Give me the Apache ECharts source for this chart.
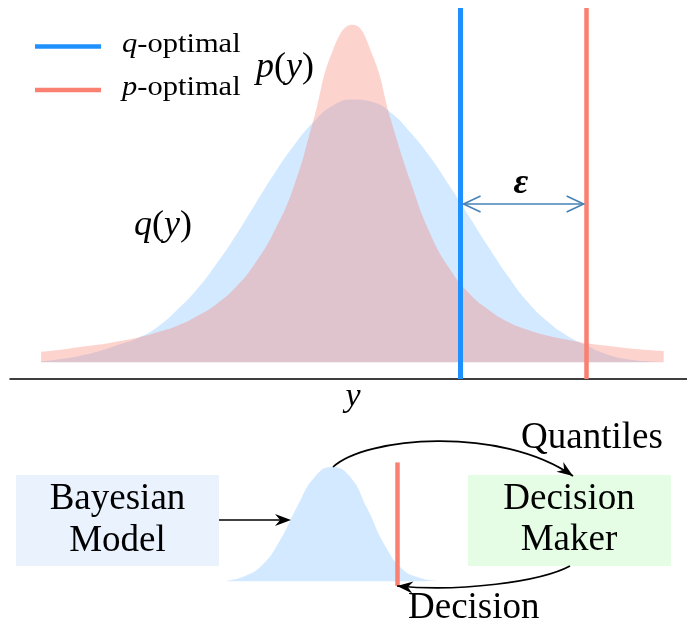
<!DOCTYPE html>
<html lang="en">
<head>
<meta charset="UTF-8" />
<title>q-optimal vs p-optimal</title>
<script src="https://cdn.jsdelivr.net/npm/echarts@6/dist/echarts.min.js"></script>
<style>html, body { margin: 0; padding: 0; background: #fff; }</style>
</head>
<body>
<div id="main" style="width: 687px; height: 622px"></div>
<script>
// top panel: the two densities over y (peak of p scaled to 1)
const topX = [-4, -3.75, -3.5, -3.25, -3, -2.75, -2.5, -2.25, -2, -1.75, -1.5, -1.25, -1, -0.75, -0.5, -0.25, 0,
  0.25, 0.5, 0.75, 1, 1.25, 1.5, 1.75, 2, 2.25, 2.5, 2.75, 3, 3.25, 3.5, 3.75, 4];
const pDensity = [0.031, 0.037, 0.045, 0.052, 0.062, 0.073, 0.089, 0.108, 0.136, 0.172, 0.222, 0.293, 0.39, 0.523, 0.718, 0.925, 1.0,
  0.915, 0.714, 0.533, 0.381, 0.277, 0.204, 0.155, 0.119, 0.096, 0.079, 0.067, 0.056, 0.049, 0.042, 0.037, 0.033];
const qDensity = [0.002, 0.009, 0.019, 0.033, 0.052, 0.072, 0.105, 0.155, 0.215, 0.29, 0.375, 0.468, 0.56, 0.643, 0.712, 0.761, 0.779,
  0.772, 0.739, 0.68, 0.608, 0.522, 0.432, 0.341, 0.255, 0.179, 0.122, 0.08, 0.05, 0.025, 0.01, 0.003, 0.001];
const qOptimal = 1.39;
const pOptimal = 3.01;
const epsLevel = 0.469;

// bottom panel: predictive density handed to the decision maker
const smallX = [-3, -2.5, -2, -1.5, -1, -0.5, 0, 0.5, 1, 1.5, 2, 2.5, 3];
const smallDensity = [0.005, 0.044, 0.14, 0.35, 0.65, 0.91, 1.0, 0.92, 0.64, 0.32, 0.11, 0.03, 0.005];
const smallDecision = 1.85;

const SERIF = '"Liberation Serif", "Times New Roman", serif';
const BLUE = '#1e90ff';
const RED = '#fa8072';

const pairs = (xs, ys) => xs.map((x, i) => [x, ys[i]]);

function text(x, y, str, size, opts) {
  opts = opts || {};
  return {
    type: 'text', x: x, y: y, scaleX: opts.scaleX || 1, z: 10,
    style: {
      text: str, fontFamily: SERIF, fontSize: size, fill: '#000',
      fontStyle: opts.italic ? 'italic' : 'normal', fontWeight: opts.bold ? 'bold' : 'normal',
      align: opts.align || 'left', verticalAlign: 'middle',
      textAlign: opts.align || 'left', textVerticalAlign: 'middle',
      rich: { i: { fontFamily: SERIF, fontSize: size, fontStyle: 'italic' } }
    }
  };
}

// stealth style arrow head, pointing from `from` to `tip`
function head(tip, from) {
  const dx = tip[0] - from[0], dy = tip[1] - from[1];
  const d = Math.hypot(dx, dy), ux = dx / d, uy = dy / d, nx = -uy, ny = ux;
  const len = 16, half = 6;
  const bx = tip[0] - ux * len, by = tip[1] - uy * len;
  return {
    type: 'polygon', z: 11,
    shape: { points: [tip, [bx + nx * half, by + ny * half], [tip[0] - ux * len * 0.68, tip[1] - uy * len * 0.68], [bx - nx * half, by - ny * half]] },
    style: { fill: '#000' }
  };
}

function curvedArrow(p0, c1, c2, p3) {
  return [
    { type: 'bezierCurve', z: 11, shape: { x1: p0[0], y1: p0[1], cpx1: c1[0], cpy1: c1[1], cpx2: c2[0], cpy2: c2[1], x2: p3[0], y2: p3[1] },
      style: { stroke: '#000', lineWidth: 1.7, fill: null } },
    head(p3, c2)
  ];
}

const graphics = [
  // legend
  { type: 'line', shape: { x1: 35, y1: 46.5, x2: 101, y2: 46.5 }, style: { stroke: BLUE, lineWidth: 4.5 } },
  { type: 'line', shape: { x1: 35, y1: 90, x2: 101, y2: 90 }, style: { stroke: RED, lineWidth: 4.5 } },
  text(122, 45, '{i|q}-optimal', 27, { scaleX: 1.13 }),
  text(122, 88, '{i|p}-optimal', 27, { scaleX: 1.13 }),
  // curve labels
  text(256, 68, '{i|p}({i|y})', 36),
  text(134, 226, '{i|q}({i|y})', 36),
  text(521, 184, 'ε', 36, { italic: true, bold: true, align: 'center' }),
  text(353, 397, 'y', 34, { italic: true, align: 'center' }),
  // flow diagram
  { type: 'rect', z: 1, shape: { x: 16, y: 475, width: 203, height: 91 }, style: { fill: '#eaf2fe' } },
  { type: 'rect', z: 1, shape: { x: 468, y: 475, width: 203, height: 91 }, style: { fill: '#e4fde4' } },
  text(117.5, 499.5, 'Bayesian', 37, { align: 'center' }),
  text(117.5, 541, 'Model', 37, { align: 'center' }),
  text(569, 499.5, 'Decision', 37, { align: 'center' }),
  text(569, 540, 'Maker', 37, { align: 'center' }),
  text(521, 438, 'Quantiles', 37),
  text(408, 608, 'Decision', 37),
  { type: 'line', z: 11, shape: { x1: 219, y1: 520, x2: 282, y2: 520 }, style: { stroke: '#000', lineWidth: 1.7 } },
  head([291, 520], [219, 520])
].concat(
  curvedArrow([333, 467], [365, 437], [500, 425], [573, 476]),
  curvedArrow([570, 566], [540, 582], [460, 592], [397, 586])
);

const option = {
  animation: false,
  grid: [
    { left: 10, top: 8, width: 677, height: 371, outerBoundsMode: 'none' },
    { left: 227, top: 462.4, width: 210, height: 123.4, outerBoundsMode: 'none' }
  ],
  xAxis: [
    { type: 'value', gridIndex: 0, min: -4.4, max: 4.3,
      axisLine: { show: true, onZero: false, lineStyle: { color: '#000', width: 1.5 } },
      axisTick: { show: false }, axisLabel: { show: false }, splitLine: { show: false } },
    { type: 'value', gridIndex: 1, min: -3, max: 3, show: false }
  ],
  yAxis: [
    { type: 'value', gridIndex: 0, min: -0.05, max: 1.05, show: false },
    { type: 'value', gridIndex: 1, min: -0.04, max: 1.04, show: false }
  ],
  series: [
    {
      name: 'q(y)', type: 'line', xAxisIndex: 0, yAxisIndex: 0, smooth: 0.5, showSymbol: false, silent: true,
      data: pairs(topX, qDensity), lineStyle: { width: 0 }, areaStyle: { color: 'rgba(30,144,255,0.2)', opacity: 1 },
      markLine: { silent: true, symbol: 'none', label: { show: false }, lineStyle: { color: BLUE, width: 5, type: 'solid' },
        data: [{ xAxis: qOptimal }] }
    },
    {
      name: 'p(y)', type: 'line', xAxisIndex: 0, yAxisIndex: 0, smooth: 0.5, showSymbol: false, silent: true,
      data: pairs(topX, pDensity), lineStyle: { width: 0 }, areaStyle: { color: 'rgba(250,128,114,0.35)', opacity: 1 },
      markLine: { silent: true, symbol: 'none', label: { show: false }, lineStyle: { color: RED, width: 4.5, type: 'solid' },
        data: [{ xAxis: pOptimal }] }
    },
    {
      name: 'epsilon', type: 'custom', xAxisIndex: 0, yAxisIndex: 0, silent: true, clip: false, z: 5,
      data: [[qOptimal, pOptimal, epsLevel]],
      encode: { x: [0, 1], y: 2 },
      renderItem: function (params, api) {
        const a = api.coord([api.value(0), api.value(2)]);
        const b = api.coord([api.value(1), api.value(2)]);
        const x1 = a[0] + 3, x2 = b[0] - 3, y = a[1];
        const st = { stroke: '#4682b4', lineWidth: 1.6, fill: null };
        return { type: 'group', children: [
          { type: 'line', shape: { x1: x1, y1: y, x2: x2, y2: y }, style: st },
          { type: 'polyline', shape: { points: [[x1 + 17, y - 8], [x1, y], [x1 + 17, y + 8]] }, style: st },
          { type: 'polyline', shape: { points: [[x2 - 17, y - 8], [x2, y], [x2 - 17, y + 8]] }, style: st }
        ] };
      }
    },
    {
      name: 'predictive', type: 'line', xAxisIndex: 1, yAxisIndex: 1, smooth: 0.5, showSymbol: false, silent: true,
      data: pairs(smallX, smallDensity), lineStyle: { width: 0 }, areaStyle: { color: 'rgba(30,144,255,0.2)', opacity: 1 },
      markLine: { silent: true, symbol: 'none', label: { show: false }, lineStyle: { color: RED, width: 4.5, type: 'solid' },
        data: [{ xAxis: smallDecision }] }
    }
  ],
  graphic: { elements: graphics }
};

const myChart = echarts.init(document.getElementById('main'));
myChart.setOption(option);
</script>
</body>
</html>
